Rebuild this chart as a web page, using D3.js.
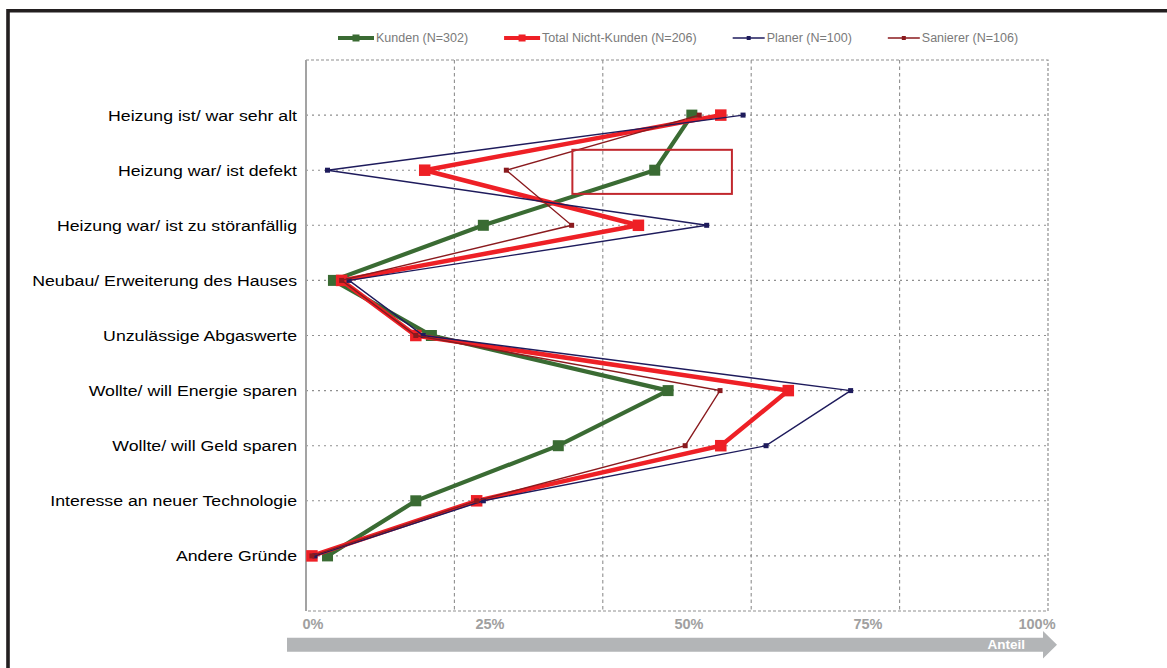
<!DOCTYPE html>
<html>
<head>
<meta charset="utf-8">
<script src="https://cdn.jsdelivr.net/npm/d3@7"></script>
<style>
  html, body { margin: 0; padding: 0; background: #fff; }
  svg { display: block; font-family: "Liberation Sans", Arial, sans-serif; }
</style>
</head>
<body>
<svg id="chart" width="1167" height="668"></svg>
<script>
// Reasons for the heating decision, share of respondents per group (%)
const categories = [
  "Heizung ist/ war sehr alt",
  "Heizung war/ ist defekt",
  "Heizung war/ ist zu störanfällig",
  "Neubau/ Erweiterung des Hauses",
  "Unzulässige Abgaswerte",
  "Wollte/ will Energie sparen",
  "Wollte/ will Geld sparen",
  "Interesse an neuer Technologie",
  "Andere Gründe"
];
const kunden    = [52.0, 47.0, 23.9, 3.7, 16.9, 48.8, 34.0, 14.8, 2.9];
const nichtKunden = [55.9, 16.0, 44.8, 4.8, 14.8, 65.0, 55.9, 23.0, 0.8];
const planer    = [58.9, 2.9, 54.0, 5.8, 15.8, 73.4, 62.0, 23.9, 1.2];
const sanierer  = [53.0, 27.0, 35.8, 4.8, 14.8, 55.8, 51.1, 23.0, 0.8];

const seriesNames = ["Kunden (N=302)", "Total Nicht-Kunden (N=206)", "Planer (N=100)", "Sanierer (N=106)"];
const tickLabels = ["0%", "25%", "50%", "75%", "100%"];
const tickValues = [0, 25, 50, 75, 100];
const gridValues = [20, 40, 60, 80];
const axisTitle = "Anteil";
// highlighted region around "Heizung war/ ist defekt" (value range in %)
const highlightRange = [35.9, 57.4];
const highlightCategory = "Heizung war/ ist defekt";

const series = [
  { name: seriesNames[0], values: kunden,      color: "#3a6b33", width: 4.2, marker: 11, legendLen: 36 },
  { name: seriesNames[1], values: nichtKunden, color: "#ee2026", width: 4.5, marker: 11.5, legendLen: 36 },
  { name: seriesNames[2], values: planer,      color: "#1e1b5c", width: 1.4, marker: 5, legendLen: 32 },
  { name: seriesNames[3], values: sanierer,    color: "#8a1a1e", width: 1.4, marker: 5, legendLen: 32 }
];

const svg = d3.select("#chart");
const plot = { left: 306, right: 1048, top: 60, bottom: 611 };

const x = d3.scaleLinear().domain([0, 100]).range([plot.left, plot.right]);
const y = d3.scalePoint().domain(categories).range([plot.top, plot.bottom]).padding(1);
// label positions for the percentage ticks along the bottom
const xLabel = d3.scaleLinear().domain(tickValues).range([313, 490, 689, 868, 1037]);

// outer frame (top and left edges)
svg.append("path")
  .attr("d", `M8,668 L8,10.8 L1167,10.8`)
  .attr("fill", "none")
  .attr("stroke", "#231f20")
  .attr("stroke-width", 3.6);

// grid
const grid = svg.append("g");
grid.selectAll("line.h").data(categories).join("line")
  .attr("x1", plot.left).attr("x2", plot.right)
  .attr("y1", d => y(d)).attr("y2", d => y(d))
  .attr("stroke", "#8f8f8f").attr("stroke-width", 1.1)
  .attr("stroke-dasharray", "2,4");
grid.selectAll("line.v").data(gridValues).join("line")
  .attr("x1", d => x(d)).attr("x2", d => x(d))
  .attr("y1", plot.top).attr("y2", plot.bottom)
  .attr("stroke", "#8f8f8f").attr("stroke-width", 1.1)
  .attr("stroke-dasharray", "3.5,3");

// plot border: dashed top/right/bottom, solid left axis
svg.append("path")
  .attr("d", `M${plot.left},${plot.top} L${plot.right},${plot.top} L${plot.right},${plot.bottom} L${plot.left},${plot.bottom}`)
  .attr("fill", "none").attr("stroke", "#8f8f8f").attr("stroke-width", 1.2)
  .attr("stroke-dasharray", "3,2");
svg.append("line")
  .attr("x1", plot.left).attr("x2", plot.left)
  .attr("y1", plot.top).attr("y2", plot.bottom)
  .attr("stroke", "#a3a3a3").attr("stroke-width", 2);

// category labels (wide Arial look)
svg.append("g").selectAll("text").data(categories).join("text")
  .attr("transform", d => `translate(297,${y(d) + 5.5}) scale(1.165,1)`)
  .attr("text-anchor", "end")
  .attr("font-size", 15.2)
  .attr("fill", "#000")
  .text(d => d);

// percentage labels
svg.append("g").selectAll("text").data(tickValues).join("text")
  .attr("x", d => xLabel(d))
  .attr("y", 628.5)
  .attr("text-anchor", "middle")
  .attr("font-size", 14.5)
  .attr("font-weight", "bold")
  .attr("fill", "#a0a0a0")
  .text((d, i) => tickLabels[i]);

// "Anteil" arrow
const ay = 644.7, half = 7, headHalf = 13.7;
const ax0 = x(0) - 19, axHead = x(100) - 5, axTip = x(100) + 9;
svg.append("path")
  .attr("d", `M${ax0},${ay - half} L${axHead},${ay - half} L${axHead},${ay - headHalf} L${axTip},${ay} L${axHead},${ay + headHalf} L${axHead},${ay + half} L${ax0},${ay + half} Z`)
  .attr("fill", "#b3b5b7");
svg.append("text")
  .attr("x", 1025).attr("y", 648.5)
  .attr("text-anchor", "end")
  .attr("font-size", 13.5).attr("font-weight", "bold")
  .attr("fill", "#fff")
  .text(axisTitle);

// series lines and markers
const line = d3.line().x(d => x(d.v)).y(d => y(d.c));
series.forEach(s => {
  const pts = categories.map((c, i) => ({ c, v: s.values[i] }));
  const g = svg.append("g");
  g.append("path")
    .datum(pts)
    .attr("d", line)
    .attr("fill", "none")
    .attr("stroke", s.color)
    .attr("stroke-width", s.width)
    .attr("stroke-linejoin", "miter");
  g.selectAll("rect").data(pts).join("rect")
    .attr("x", d => x(d.v) - s.marker / 2)
    .attr("y", d => y(d.c) - s.marker / 2)
    .attr("width", s.marker).attr("height", s.marker)
    .attr("fill", s.color);
});

// highlight box
const step = y.step();
svg.append("rect")
  .attr("x", x(highlightRange[0]))
  .attr("y", y(highlightCategory) - 0.37 * step)
  .attr("width", x(highlightRange[1]) - x(highlightRange[0]))
  .attr("height", 0.8 * step)
  .attr("fill", "none")
  .attr("stroke", "#c1272d")
  .attr("stroke-width", 2);

// legend
const legend = svg.append("g");
let lx = 338;
const ly = 38;
series.forEach(s => {
  const g = legend.append("g");
  g.append("line")
    .attr("x1", lx).attr("x2", lx + s.legendLen)
    .attr("y1", ly).attr("y2", ly)
    .attr("stroke", s.color)
    .attr("stroke-width", s.width > 2 ? 4 : 1.5);
  const m = s.width > 2 ? 7 : 4;
  g.append("rect")
    .attr("x", lx + s.legendLen / 2 - m / 2).attr("y", ly - m / 2)
    .attr("width", m).attr("height", m)
    .attr("fill", s.color);
  const t = g.append("text")
    .attr("x", lx + s.legendLen + 2).attr("y", ly + 4.3)
    .attr("font-size", 12.5)
    .attr("fill", "#7a7a7a")
    .text(s.name);
  lx += s.legendLen + 2 + t.node().getComputedTextLength() + 36;
});
</script>
</body>
</html>
